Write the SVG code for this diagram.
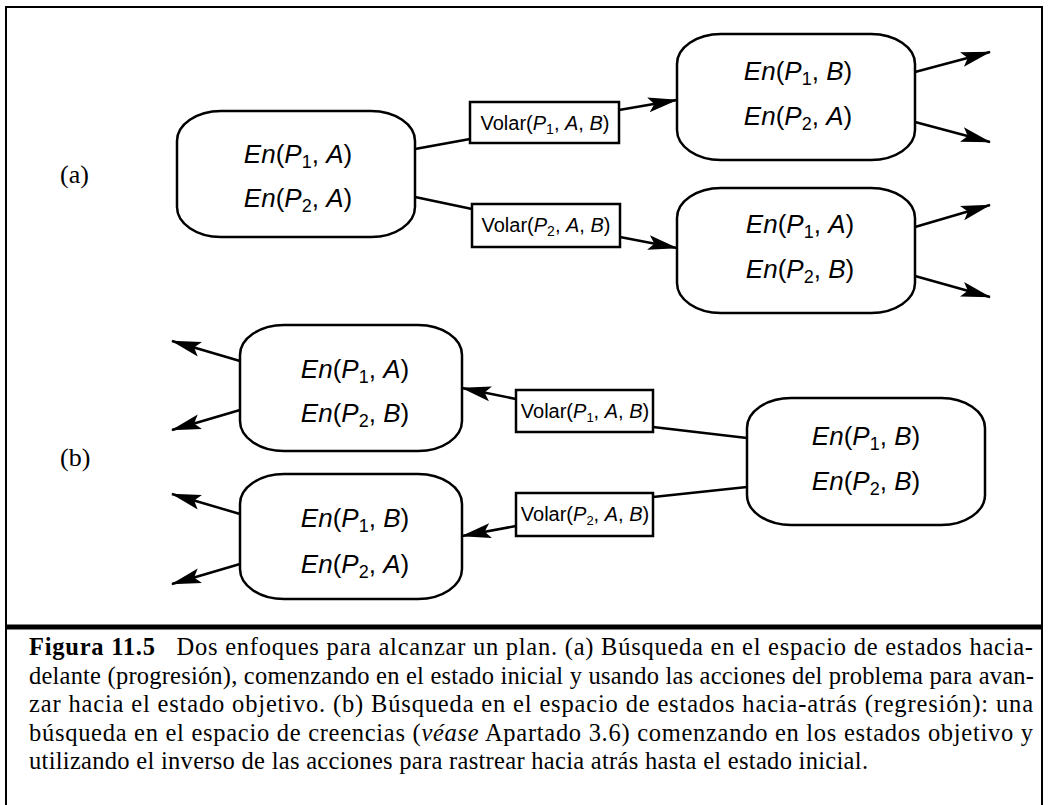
<svg xmlns="http://www.w3.org/2000/svg" width="1049" height="805" viewBox="0 0 1049 805">
<style>
.node{fill:#fff;stroke:#000;stroke-width:2.5}
.box{fill:#fff;stroke:#000;stroke-width:2.5}
.nt{font-family:"Liberation Sans",Arial,sans-serif;font-size:26px;text-anchor:middle;fill:#000}
.bt{font-family:"Liberation Sans",Arial,sans-serif;font-size:20px;text-anchor:middle;fill:#000}
.i{font-style:italic}
.edge{stroke:#000;stroke-width:2.5;fill:none}
.arr{marker-end:url(#ah)}
.lbl{font-family:"Liberation Serif","Times New Roman",serif;font-size:26px;fill:#000}
.cap{font-family:"Liberation Serif","Times New Roman",serif;font-size:24.5px;fill:#000}
</style>
<defs>
<marker id="ah" markerUnits="userSpaceOnUse" markerWidth="30" markerHeight="18" viewBox="0 0 30 18" refX="29" refY="9" orient="auto">
<path d="M0,1.5 L30,9 L0,16.5 L6,9 Z" fill="#000"/>
</marker>
</defs>
<rect x="6" y="7" width="1036" height="820" fill="none" stroke="#000" stroke-width="2"/>
<line x1="6" y1="627" x2="1042" y2="627" stroke="#000" stroke-width="5"/>

<text class="lbl" x="60" y="183">(a)</text>
<text class="lbl" x="60" y="466">(b)</text>

<g id="connectors">
<line class="edge" x1="415" y1="149" x2="470" y2="139"/>
<line class="edge" x1="415" y1="197" x2="472" y2="209"/>
<line class="edge arr" x1="619" y1="110" x2="677" y2="100"/>
<line class="edge arr" x1="620" y1="237" x2="677" y2="248"/>
<line class="edge arr" x1="915" y1="72" x2="990" y2="52"/>
<line class="edge arr" x1="915" y1="122" x2="990" y2="142"/>
<line class="edge arr" x1="915" y1="227" x2="990" y2="205"/>
<line class="edge arr" x1="915" y1="276" x2="990" y2="297"/>
<line class="edge" x1="747" y1="438" x2="653" y2="427"/>
<line class="edge" x1="747" y1="487" x2="653" y2="497"/>
<line class="edge arr" x1="516" y1="399" x2="462" y2="388"/>
<line class="edge arr" x1="516" y1="526" x2="462" y2="536"/>
<line class="edge arr" x1="240" y1="361" x2="172" y2="341"/>
<line class="edge arr" x1="240" y1="410" x2="172" y2="430"/>
<line class="edge arr" x1="240" y1="514" x2="172" y2="494"/>
<line class="edge arr" x1="240" y1="564" x2="172" y2="584"/>
</g>

<g id="nodeA">
<rect class="node" x="177" y="111" width="238" height="126" rx="44" ry="30"/>
<text class="nt" x="298" y="163"><tspan class="i">En</tspan>(<tspan class="i">P</tspan><tspan font-size="18" dy="5">1</tspan><tspan dy="-5">, </tspan><tspan class="i">A</tspan>)</text>
<text class="nt" x="298" y="207"><tspan class="i">En</tspan>(<tspan class="i">P</tspan><tspan font-size="18" dy="5">2</tspan><tspan dy="-5">, </tspan><tspan class="i">A</tspan>)</text>
</g>

<g id="act1">
<rect class="box" x="470" y="102" width="149" height="41"/>
<text class="bt" x="545" y="130">Volar(<tspan class="i">P</tspan><tspan font-size="14" dy="4">1</tspan><tspan dy="-4">, </tspan><tspan class="i">A</tspan>, <tspan class="i">B</tspan>)</text>
</g>

<g id="act2">
<rect class="box" x="472" y="204" width="148" height="43"/>
<text class="bt" x="546" y="232">Volar(<tspan class="i">P</tspan><tspan font-size="14" dy="4">2</tspan><tspan dy="-4">, </tspan><tspan class="i">A</tspan>, <tspan class="i">B</tspan>)</text>
</g>

<g id="nodeB">
<rect class="node" x="677" y="34" width="238" height="126" rx="44" ry="30"/>
<text class="nt" x="798" y="80"><tspan class="i">En</tspan>(<tspan class="i">P</tspan><tspan font-size="18" dy="5">1</tspan><tspan dy="-5">, </tspan><tspan class="i">B</tspan>)</text>
<text class="nt" x="798" y="125"><tspan class="i">En</tspan>(<tspan class="i">P</tspan><tspan font-size="18" dy="5">2</tspan><tspan dy="-5">, </tspan><tspan class="i">A</tspan>)</text>
</g>

<g id="nodeC">
<rect class="node" x="677" y="188" width="238" height="125" rx="44" ry="30"/>
<text class="nt" x="800" y="233"><tspan class="i">En</tspan>(<tspan class="i">P</tspan><tspan font-size="18" dy="5">1</tspan><tspan dy="-5">, </tspan><tspan class="i">A</tspan>)</text>
<text class="nt" x="800" y="278"><tspan class="i">En</tspan>(<tspan class="i">P</tspan><tspan font-size="18" dy="5">2</tspan><tspan dy="-5">, </tspan><tspan class="i">B</tspan>)</text>
</g>

<g id="nodeD">
<rect class="node" x="240" y="325" width="222" height="126" rx="44" ry="30"/>
<text class="nt" x="355" y="378"><tspan class="i">En</tspan>(<tspan class="i">P</tspan><tspan font-size="18" dy="5">1</tspan><tspan dy="-5">, </tspan><tspan class="i">A</tspan>)</text>
<text class="nt" x="355" y="422"><tspan class="i">En</tspan>(<tspan class="i">P</tspan><tspan font-size="18" dy="5">2</tspan><tspan dy="-5">, </tspan><tspan class="i">B</tspan>)</text>
</g>

<g id="nodeE">
<rect class="node" x="240" y="474" width="222" height="125" rx="44" ry="30"/>
<text class="nt" x="355" y="527"><tspan class="i">En</tspan>(<tspan class="i">P</tspan><tspan font-size="18" dy="5">1</tspan><tspan dy="-5">, </tspan><tspan class="i">B</tspan>)</text>
<text class="nt" x="355" y="573"><tspan class="i">En</tspan>(<tspan class="i">P</tspan><tspan font-size="18" dy="5">2</tspan><tspan dy="-5">, </tspan><tspan class="i">A</tspan>)</text>
</g>

<g id="act3">
<rect class="box" x="516" y="390" width="137" height="42"/>
<text class="bt" x="585" y="418" font-size="18.5">Volar(<tspan class="i">P</tspan><tspan font-size="13" dy="4">1</tspan><tspan dy="-4">, </tspan><tspan class="i">A</tspan>, <tspan class="i">B</tspan>)</text>
</g>

<g id="act4">
<rect class="box" x="516" y="493" width="137" height="43"/>
<text class="bt" x="585" y="521" font-size="18.5">Volar(<tspan class="i">P</tspan><tspan font-size="13" dy="4">2</tspan><tspan dy="-4">, </tspan><tspan class="i">A</tspan>, <tspan class="i">B</tspan>)</text>
</g>

<g id="nodeF">
<rect class="node" x="747" y="398" width="238" height="127" rx="44" ry="30"/>
<text class="nt" x="866" y="445"><tspan class="i">En</tspan>(<tspan class="i">P</tspan><tspan font-size="18" dy="5">1</tspan><tspan dy="-5">, </tspan><tspan class="i">B</tspan>)</text>
<text class="nt" x="866" y="490"><tspan class="i">En</tspan>(<tspan class="i">P</tspan><tspan font-size="18" dy="5">2</tspan><tspan dy="-5">, </tspan><tspan class="i">B</tspan>)</text>
</g>

<g id="caption">
<text class="cap" x="29" y="655" textLength="1004" lengthAdjust="spacing"><tspan font-weight="bold">Figura 11.5</tspan><tspan dx="14"> Dos enfoques para alcanzar un plan. (a) Búsqueda en el espacio de estados hacia-</tspan></text>
<text class="cap" x="29" y="684" textLength="1005" lengthAdjust="spacing">delante (progresión), comenzando en el estado inicial y usando las acciones del problema para avan-</text>
<text class="cap" x="29" y="712" textLength="1004" lengthAdjust="spacing">zar hacia el estado objetivo. (b) Búsqueda en el espacio de estados hacia-atrás (regresión): una</text>
<text class="cap" x="29" y="741" textLength="1004" lengthAdjust="spacing">búsqueda en el espacio de creencias (<tspan font-style="italic">véase</tspan> Apartado 3.6) comenzando en los estados objetivo y</text>
<text class="cap" x="29" y="769" textLength="839" lengthAdjust="spacing">utilizando el inverso de las acciones para rastrear hacia atrás hasta el estado inicial.</text>
</g>
</svg>
